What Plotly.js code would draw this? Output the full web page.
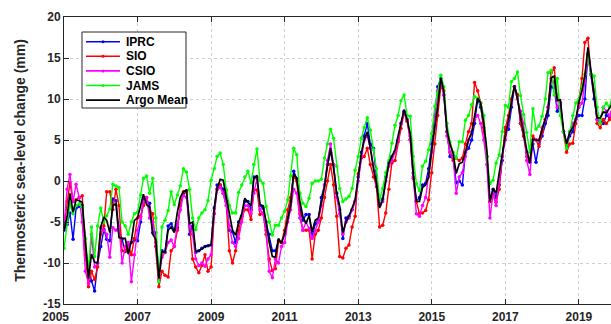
<!DOCTYPE html>
<html><head><meta charset="utf-8">
<script src="https://cdn.plot.ly/plotly-3.0.1.min.js"></script>
<style>html,body{margin:0;padding:0;background:#fff;overflow:hidden}</style>
</head><body><div id="chart" style="width:611px;height:324px"></div>
<script>
const startYear = 2005;
const seriesNames = ['IPRC', 'SIO', 'CSIO', 'JAMS', 'Argo Mean'];
const seriesColors = ['#0000ff', '#ff0000', '#ff00ff', '#00ff00', '#000000'];

const iprc = [
 -6.0,-5.3,-3.9,-7.1,-3.3,-3.1,-3.0,-8.3,-10.5,-12.2,-13.4,-10.0,
 -8.0,-5.9,-7.1,-7.3,-2.2,-2.4,-6.0,-7.1,-8.6,-7.9,-7.5,-7.2,
 -7.3,-5.0,-2.0,-2.5,-2.7,-6.3,-6.3,-11.5,-8.5,-8.7,-5.5,-5.2,
 -6.0,-5.7,-3.0,-1.5,-1.2,-6.5,-5.5,-8.7,-8.5,-8.2,-8.0,-7.9,
 -7.8,-3.3,-0.5,-0.5,-1.0,-2.5,-6.0,-6.2,-7.5,-5.0,-4.3,-2.5,
 -2.5,-3.5,0.5,0.5,-3.0,-3.3,-5.0,-6.5,-8.5,-8.5,-7.3,-7.5,
 -6.5,-4.5,-2.5,1.2,0.3,-3.5,-4.8,-4.1,-4.1,-6.8,-5.2,-4.8,
 -2.0,-0.5,2.0,3.5,2.0,-1.5,-3.5,-7.0,-4.5,-4.3,-3.5,-2.5,
 0.5,3.5,5.5,7.0,4.5,4.0,0.5,-3.0,-2.2,0.5,2.2,3.0,
 3.5,5.0,7.0,8.5,7.5,5.5,1.0,-2.5,-2.0,-0.5,-0.3,1.5,
 4.5,8.0,11.5,12.5,10.5,6.0,3.0,2.8,-0.2,0.0,-0.5,3.5,
 4.0,5.0,7.0,10.0,9.0,6.5,3.0,-2.5,-1.0,-2.0,-0.5,2.5,
 6.5,6.3,9.0,11.5,10.5,7.0,5.5,3.5,2.3,4.5,2.3,4.5,
 5.5,7.0,8.0,11.5,11.3,8.5,9.5,6.0,4.2,5.5,6.0,7.5,
 8.0,8.0,10.0,15.5,13.0,10.0,7.5,7.3,7.0,8.0,7.8,8.5
];
const sio = [
 -5.5,-2.5,-0.2,-2.5,-2.3,-2.0,-1.8,-9.0,-12.9,-11.0,-12.0,-10.5,
 -6.5,-5.5,-1.3,-1.3,-3.5,-1.0,-3.0,-8.5,-8.5,-7.7,-9.0,-7.0,
 -4.5,-4.3,-3.0,-2.0,-3.5,-4.0,-8.0,-12.9,-11.0,-11.5,-11.7,-8.5,
 -8.0,-6.0,-3.0,-1.3,-1.3,-5.5,-9.5,-10.5,-11.2,-10.3,-9.0,-11.0,
 -10.5,-4.0,-1.0,-0.5,-1.5,-3.0,-8.5,-10.0,-8.5,-6.0,-4.5,-3.5,
 -3.5,-4.7,-1.1,-1.1,-4.1,-3.9,-6.5,-9.5,-10.9,-10.7,-7.4,-7.5,
 -6.0,-3.5,-2.0,0.5,0.0,-4.0,-6.0,-6.0,-6.0,-9.5,-6.5,-6.0,
 -4.5,-2.0,0.0,2.0,-0.5,-4.3,-9.2,-9.4,-8.2,-7.8,-5.6,-4.3,
 0.9,2.8,3.0,4.0,2.0,0.5,-0.7,-5.6,-5.4,-3.9,-1.0,2.2,
 2.5,4.8,6.4,8.3,7.3,5.1,0.3,-2.5,-4.0,-3.9,-3.6,-2.3,
 1.0,4.5,8.0,11.5,11.0,6.0,3.5,2.5,2.8,2.5,2.8,4.5,
 6.0,7.0,12.0,11.0,9.5,6.0,3.0,-2.5,-1.7,-2.6,-1.0,3.0,
 6.5,8.0,10.0,11.5,10.5,7.0,5.5,3.0,2.5,5.5,5.0,4.2,
 6.0,7.5,9.0,13.2,13.8,10.0,9.5,6.0,3.5,4.5,4.6,7.0,
 9.5,12.5,16.9,17.4,13.0,11.0,7.0,6.5,7.5,7.0,7.5,8.0
];
const csio = [
 -5.5,-1.0,0.8,-2.5,-0.4,-2.0,-5.0,-11.0,-12.5,-6.5,-10.5,-10.0,
 -5.7,-6.0,-6.5,-9.3,-5.7,-6.0,-5.5,-10.0,-8.0,-7.5,-12.3,-9.0,
 -6.0,-4.5,-2.5,-2.0,-4.5,-5.0,-7.5,-12.0,-9.3,-8.7,-7.5,-7.2,
 -8.0,-5.3,-3.5,-1.7,-2.0,-5.5,-6.5,-9.5,-10.3,-10.0,-10.4,-9.5,
 -9.0,-4.0,-1.0,-0.8,-1.5,-3.0,-5.5,-7.5,-8.0,-7.0,-5.0,-3.0,
 -3.0,-4.0,-1.5,0.3,-3.5,-4.0,-6.0,-11.0,-11.8,-9.5,-10.0,-8.0,
 -7.5,-5.0,-3.5,-1.0,-1.5,-4.5,-6.0,-5.0,-5.8,-7.0,-6.0,-5.0,
 -3.0,-0.5,2.5,4.5,2.0,-2.0,-4.0,-6.5,-5.0,-4.5,-3.5,-2.5,
 0.0,3.0,5.0,5.5,4.0,2.0,-0.5,-3.0,-2.5,0.0,1.8,2.5,
 3.5,5.0,7.0,8.3,7.5,5.0,0.5,-4.0,-4.3,-3.0,-2.0,0.5,
 3.5,7.5,11.0,12.0,10.5,5.5,3.5,3.0,-1.5,0.5,1.0,3.0,
 5.0,6.0,7.5,8.0,7.0,5.0,2.0,-4.5,-1.5,-3.0,0.0,3.0,
 5.0,7.0,9.5,11.5,10.0,8.5,7.0,2.5,0.8,5.0,5.0,5.0,
 6.5,7.5,9.0,12.5,12.0,9.0,9.5,6.0,4.8,6.0,7.0,7.5,
 9.0,9.5,12.0,15.0,13.0,11.0,7.5,7.5,9.0,8.5,8.0,9.0
];
const jams = [
 -8.2,-5.0,-2.8,-4.0,-3.0,-2.8,-3.2,-7.0,-11.0,-5.6,-9.2,-5.5,
 -3.3,-5.0,-4.2,-3.4,-0.4,-0.6,-0.8,-5.0,-5.5,-6.5,-5.0,-4.0,
 -3.8,-1.7,0.3,0.6,-1.5,0.3,-4.5,-12.3,-5.6,-4.8,-3.6,-1.3,
 -2.9,-1.7,-0.6,1.5,1.1,-1.0,-4.5,-5.9,-4.5,-3.9,-3.5,-2.4,
 0.1,1.5,3.0,3.4,2.0,-1.1,-3.0,-3.9,-3.9,-1.4,-0.5,0.5,
 1.2,-0.2,2.0,3.9,0.1,-0.3,-3.1,-5.0,-6.6,-5.4,-5.4,-4.5,
 -3.7,-2.3,0.6,4.0,3.2,-1.5,-2.7,-3.1,-2.1,-0.3,0.0,0.0,
 0.2,2.8,4.5,6.3,5.2,1.8,-0.9,-2.5,-2.2,-1.9,-0.9,1.3,
 3.0,5.2,6.5,7.7,6.2,3.8,1.5,-2.3,-0.9,1.0,2.5,4.6,
 6.8,8.0,9.8,10.5,8.0,7.9,3.0,-0.3,-1.2,1.8,2.4,3.8,
 5.8,9.1,10.7,12.9,11.5,7.0,4.8,3.5,2.8,4.8,4.8,7.4,
 8.0,9.3,10.3,10.1,9.5,8.0,3.0,-0.3,0.1,2.2,3.2,6.0,
 9.2,9.0,12.1,12.5,13.3,10.4,8.1,5.9,3.5,8.8,6.3,6.7,
 7.9,10.0,13.2,13.5,10.5,12.5,8.0,6.0,4.0,6.0,8.0,9.5,
 10.0,11.5,13.0,15.5,13.0,12.8,9.0,7.0,9.0,9.5,9.0,10.5
];
const argoMean = [
 -6.0,-4.3,-1.5,-3.8,-2.3,-2.4,-2.6,-7.7,-11.9,-8.9,-9.9,-10.0,
 -5.6,-4.4,-4.8,-6.3,-3.0,-2.8,-6.9,-7.0,-7.0,-8.9,-7.3,-4.8,
 -4.5,-3.0,-1.6,-2.9,-3.2,-6.5,-7.1,-11.9,-8.6,-8.7,-6.0,-5.6,
 -6.3,-3.8,-2.0,-1.3,-1.1,-5.2,-5.0,-8.6,-8.5,-8.3,-8.0,-7.9,
 -7.8,-3.3,-1.0,0.2,0.1,-2.0,-3.8,-6.0,-6.6,-5.1,-4.0,-2.1,
 -2.6,-3.0,0.3,0.7,-2.9,-3.0,-5.0,-7.5,-9.2,-9.3,-7.0,-7.6,
 -6.4,-4.5,-3.1,0.9,0.3,-2.5,-4.3,-5.2,-4.2,-6.2,-4.8,-4.5,
 -2.5,-0.7,1.8,4.0,1.5,-1.5,-3.1,-6.3,-5.0,-4.3,-3.3,-2.3,
 0.5,3.4,5.0,6.0,4.0,1.5,-0.3,-3.3,-2.3,0.0,2.2,3.0,
 3.8,5.5,7.2,8.7,7.5,5.8,0.9,-2.5,-2.5,-0.8,-0.5,0.5,
 3.8,6.5,9.1,12.6,10.9,6.2,4.5,3.4,0.9,2.1,2.3,3.5,
 5.0,5.8,8.0,10.1,9.5,7.0,3.8,-2.5,-0.9,-1.5,1.0,3.4,
 5.5,7.4,9.3,11.7,10.0,7.9,6.0,3.8,2.2,5.1,5.0,4.9,
 6.3,7.5,8.7,12.6,12.8,9.8,9.9,6.3,4.5,5.9,6.5,7.5,
 9.6,11.0,12.8,16.3,13.5,10.5,7.7,7.7,8.4,8.3,9.0,9.5
];
const xTickYears = [2005, 2007, 2009, 2011, 2013, 2015, 2017, 2019];
const yTickValues = [-15, -10, -5, 0, 5, 10, 15, 20];

const months = argoMean.map((_, i) => {
  const y = startYear + Math.floor(i / 12);
  const m = (i % 12) + 1;
  return y + '-' + String(m).padStart(2, '0') + '-01';
});

const allSeries = [iprc, sio, csio, jams, argoMean];
const traces = allSeries.map((vals, k) => {
  const isMean = k === 4;
  return {
    x: months, y: vals, type: 'scatter',
    mode: isMean ? 'lines' : 'lines+markers',
    name: seriesNames[k],
    line: {color: seriesColors[k], width: isMean ? 1.7 : 1.4},
    marker: {color: seriesColors[k], size: 3.5},
    showlegend: false, cliponaxis: true
  };
});

const L = 64, T = 17, W = 547, H = 287;
const px = x => (x - L) / W;
const py = y => 1 - (y - T) / H;
const FONT = 'Liberation Sans, Arial, Helvetica, sans-serif';

const shapes = [{
  type: 'rect', xref: 'paper', yref: 'paper',
  x0: px(82), x1: px(186), y0: py(108), y1: py(32),
  line: {color: '#262626', width: 1}, fillcolor: '#ffffff', layer: 'above'
}];
const annotations = [];
seriesNames.forEach((nm, i) => {
  const yc = 41.7 + i * 14.6;
  shapes.push({type: 'line', xref: 'paper', yref: 'paper', x0: px(86), x1: px(120), y0: py(yc), y1: py(yc),
    line: {color: seriesColors[i], width: i === 4 ? 1.8 : 1.6}, layer: 'above'});
  if (i < 4) {
    shapes.push({type: 'circle', xref: 'paper', yref: 'paper', x0: px(101.5), x1: px(104.5), y0: py(yc + 1.5), y1: py(yc - 1.5),
      line: {color: seriesColors[i], width: 0}, fillcolor: seriesColors[i], layer: 'above'});
  }
  annotations.push({xref: 'paper', yref: 'paper', x: px(124), y: py(yc), xanchor: 'left', yanchor: 'middle',
    text: nm, showarrow: false, font: {family: FONT, size: 12, color: '#000', weight: 'bold'}});
});

// first year label sits slightly left of its tick in the reference
const xTickText = xTickYears.map((y, i) => i === 0 ? String(y) + '\u00a0\u00a0\u00a0\u00a0\u00a0' : String(y));

const layout = {
  width: 611, height: 324,
  margin: {l: L, r: 0, t: T, b: 324 - T - H, pad: 0},
  paper_bgcolor: '#fff', plot_bgcolor: '#fff',
  showlegend: false,
  font: {family: FONT, color: '#262626'},
  xaxis: {
    type: 'date', range: ['2005-01-01', '2019-11-16'],
    tickvals: xTickYears.map(y => y + '-01-01'), ticktext: xTickText,
    ticks: 'inside', ticklen: 5, tickwidth: 1, tickcolor: '#262626',
    ticklabelstandoff: 2,
    showline: true, linecolor: '#262626', linewidth: 1, mirror: 'ticks',
    showgrid: true, gridcolor: '#cfcfcf', griddash: 'dot', gridwidth: 1,
    zeroline: false, automargin: false,
    tickfont: {family: FONT, size: 12, color: '#262626', weight: 'bold'}
  },
  yaxis: {
    range: [-15, 20],
    tickvals: yTickValues, ticktext: yTickValues.map(String),
    ticks: 'inside', ticklen: 5, tickwidth: 1, tickcolor: '#262626',
    showline: true, linecolor: '#262626', linewidth: 1, mirror: false,
    showgrid: true, gridcolor: '#cfcfcf', griddash: 'dot', gridwidth: 1,
    zeroline: false, automargin: false,
    tickfont: {family: FONT, size: 12, color: '#262626', weight: 'bold'},
    title: {text: 'Thermosteric sea-level change (mm)', standoff: 14,
      font: {family: FONT, size: 14, color: '#262626', weight: 'bold'}}
  },
  shapes: shapes,
  annotations: annotations
};

Plotly.newPlot('chart', traces, layout, {staticPlot: true, displayModeBar: false});
</script>
</body></html>
